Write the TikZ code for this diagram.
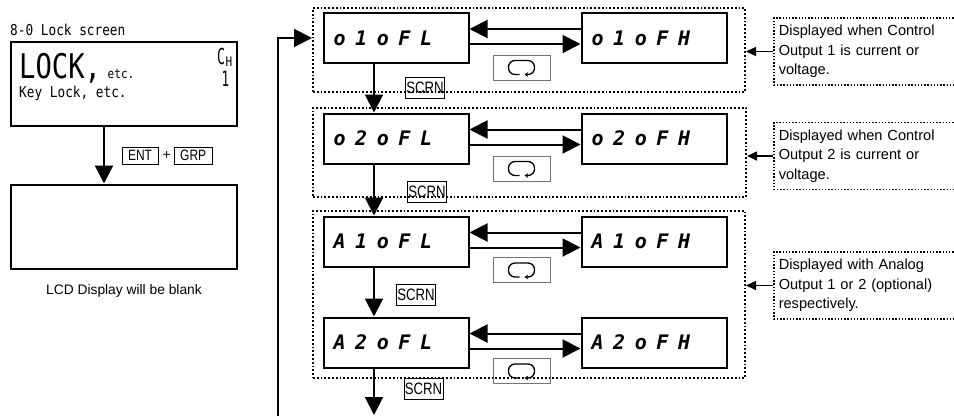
\documentclass[tikz,border=0pt]{standalone}
\usepackage{fontspec}
\setmainfont{Liberation Sans}
\newfontfamily\segfont[LetterSpace=48]{DejaVu Sans Mono}
\newfontfamily\gothfont[FakeStretch=0.85]{DejaVu Sans Mono}
\newfontfamily\keyfont[FakeStretch=0.8]{Liberation Sans}
\usetikzlibrary{arrows.meta,positioning,calc}
\tikzset{
  lcd_box/.style={rectangle,draw,line width=2pt,minimum width=226pt,minimum height=84pt,inner sep=0pt},
  seg_box/.style={rectangle,draw,line width=2pt,text width=125pt,inner xsep=10pt,minimum height=50pt,
    align=left,font=\segfont\bfseries\itshape\fontsize{20}{20}\selectfont},
  key_box/.style={rectangle,draw,line width=0.6pt,inner xsep=6pt,inner ysep=1pt,minimum height=17pt,
    font=\keyfont\fontsize{15}{15}\selectfont},
  scrn_box/.style={key_box,inner xsep=1pt,minimum height=21pt,font=\keyfont\fontsize{16.5}{16.5}\selectfont},
  loop_key/.style={rectangle,draw=black!55,line width=0.8pt,minimum width=57pt,minimum height=25pt,inner sep=0pt},
  grp_frame/.style={rectangle,draw,line width=2pt,dash pattern=on 1.8pt off 2pt,inner sep=0pt},
  note_box/.style={rectangle,draw,line width=1.5pt,dash pattern=on 1.4pt off 1.8pt,text width=176pt,
    align=left,inner xsep=5pt,minimum height=67pt,font=\fontsize{14.6}{19.5}\selectfont},
  arr/.style={-{Triangle[length=18pt,width=18pt]},line width=2pt},
  arr_small/.style={-{Triangle[length=10pt,width=9pt]},line width=1.5pt},
  loopsym/.pic={\draw[line width=1.3pt,-{Stealth[length=3.5pt,width=4.5pt]},rounded corners=6.5pt]
    (-2,7) -- (-13,7) -- (-13,-7) -- (13,-7) -- (13,7) -- (3,7);},
}
\begin{document}
\begin{tikzpicture}[x=1pt,y=-1pt]
  \useasboundingbox (0,0) rectangle (954,416);
  % lock screen and blank LCD
  \node (ttl) [anchor=west,inner sep=0pt,font=\gothfont\fontsize{15}{15}\selectfont] at (10,30) {8-0 Lock screen};
  \node (lck) [lcd_box] at (123.5,83.5) {};
  \node (lkt) [anchor=base west,inner sep=0pt,font=\gothfont\fontsize{13}{13}\selectfont] at (19,78)
    {{\fontsize{34}{34}\selectfont\addfontfeature{FakeStretch=0.8}LOCK,} etc.};
  \node (lkk) [anchor=base west,inner sep=0pt,font=\gothfont\fontsize{15}{15}\selectfont] at (19,97) {Key Lock, etc.};
  \node (chc) [inner sep=0pt,font=\gothfont\fontsize{22}{22}\selectfont\addfontfeature{FakeStretch=0.6}] at (221,56) {C};
  \node (chh) [inner sep=0pt,font=\gothfont\fontsize{13}{13}\selectfont] at (229,62) {H};
  \node (ch1) [inner sep=0pt,font=\gothfont\fontsize{21}{21}\selectfont\addfontfeature{FakeStretch=0.6}] at (225.5,79) {1};
  \node (blk) [lcd_box] at (123.5,226.5) {};
  \node (cap) [inner sep=0pt,font=\fontsize{13.8}{13.8}\selectfont] at (124,291) {LCD Display will be blank};
  \draw[arr] ([xshift=-19.5pt]lck.south) -- ([xshift=-19.5pt]blk.north);
  \node (ent) [key_box] at (140,155.5) {ENT};
  \node (pls) [right=4pt of ent,inner sep=0pt,font=\fontsize{14}{14}\selectfont] {+};
  \node (grp) [key_box,right=3pt of pls] {GRP};

  % group frames
  \node (g1) [grp_frame,minimum width=432pt,minimum height=84pt] at (529,50) {};
  \node (g2) [grp_frame,minimum width=433pt,minimum height=89pt] at (529.5,152.5) {};
  \node (g3) [grp_frame,minimum width=432pt,minimum height=167pt] at (529,294.5) {};

  % parameter displays
  \node (a1) [seg_box] at (396,38) {o1oFL};
  \node (b1) [seg_box] at (654,38) {o1oFH};
  \node (a2) [seg_box] at (396,138.5) {o2oFL};
  \node (b2) [seg_box] at (654,138.5) {o2oFH};
  \node (a3) [seg_box] at (396,241.5) {A1oFL};
  \node (b3) [seg_box] at (654,241.5) {A1oFH};
  \node (a4) [seg_box] at (396,342.5) {A2oFL};
  \node (b4) [seg_box] at (654,342.5) {A2oFH};
  \foreach \r/\y in {1/67.5,2/168.5,3/270,4/371}{
    \node (k\r) [loop_key] at (521.5,\y) {};
    \pic at (k\r) {loopsym};
    \draw[arr] ([yshift=9pt]b\r.west) -- ([yshift=9pt]a\r.east);
    \draw[arr] ([yshift=-6pt]a\r.east) -- ([yshift=-6pt]b\r.west);
  }

  % SCRN steps
  \draw[arr] ([xshift=-22pt]a1.south) -- ([xshift=-22pt]a2.north);
  \draw[arr] ([xshift=-22pt]a2.south) -- ([xshift=-22pt]a3.north);
  \draw[arr] ([xshift=-22pt]a3.south) -- ([xshift=-22pt]a4.north);
  \coordinate (bot) at (374,415);
  \draw[arr] ([xshift=-22pt]a4.south) -- (bot);
  \node (s1) [scrn_box] at (425,87.5) {SCRN};
  \node (s2) [scrn_box] at (427,192) {SCRN};
  \node (s3) [scrn_box] at (416,295) {SCRN};
  \node (s4) [scrn_box] at (423.5,389) {SCRN};

  % return path
  \coordinate (fb) at (278,416);
  \draw[arr] (fb) |- (a1.west -| g1.west);

  % notes
  \node (n1) [note_box,anchor=west] at (773,51.5) {Displayed when Control\\Output 1 is current or\\voltage.};
  \node (n2) [note_box,anchor=west] at (773,156) {Displayed when Control\\Output 2 is current or\\voltage.};
  \node (n3) [note_box,anchor=west] at (773,285.5) {Displayed with Analog\\Output 1 or 2 (optional)\\respectively.};
  \draw[arr_small] (n1.west) -- (n1.west -| g1.east);
  \draw[arr_small] (n2.west) -- (n2.west -| g2.east);
  \draw[arr_small] (n3.west) -- (n3.west -| g3.east);
\end{tikzpicture}
\end{document}
